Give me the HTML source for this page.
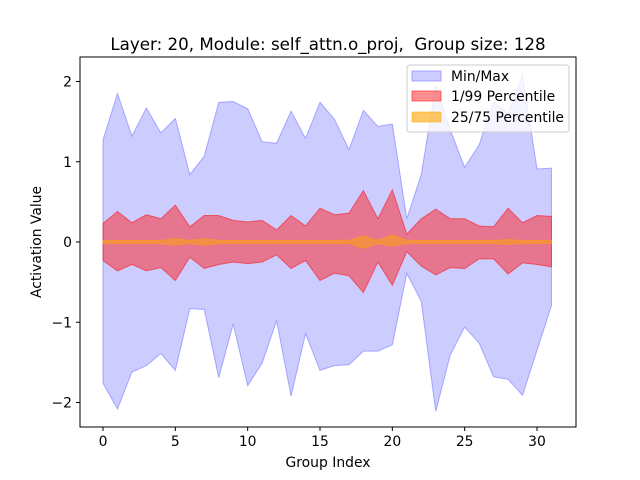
<!DOCTYPE html>
<html><head><meta charset="utf-8"><style>
body{margin:0;background:#fff;}
svg{display:block;font-family:"DejaVu Sans","Liberation Sans",sans-serif;}
</style></head><body>
<svg id="chart" width="640" height="480"></svg>
<script>
const groups=[...Array(32).keys()];
const maxV=[1.27,1.85,1.32,1.67,1.36,1.54,0.84,1.07,1.74,1.75,1.66,1.25,1.23,1.63,1.29,1.74,1.53,1.15,1.64,1.44,1.47,0.29,0.84,1.95,1.4,0.93,1.21,1.75,1.6,2.08,0.91,0.92];
const minV=[-1.76,-2.08,-1.62,-1.54,-1.39,-1.6,-0.83,-0.84,-1.69,-1.02,-1.79,-1.51,-0.98,-1.92,-1.14,-1.6,-1.54,-1.53,-1.36,-1.36,-1.28,-0.39,-0.74,-2.11,-1.41,-1.06,-1.26,-1.68,-1.71,-1.91,-1.35,-0.79];
const p99=[0.23,0.38,0.24,0.34,0.29,0.46,0.19,0.33,0.33,0.27,0.25,0.27,0.15,0.33,0.2,0.42,0.34,0.36,0.64,0.29,0.65,0.1,0.29,0.41,0.29,0.29,0.2,0.19,0.42,0.24,0.33,0.32];
const p01=[-0.23,-0.36,-0.28,-0.36,-0.32,-0.48,-0.19,-0.33,-0.28,-0.25,-0.27,-0.25,-0.16,-0.33,-0.23,-0.48,-0.39,-0.42,-0.63,-0.25,-0.54,-0.12,-0.3,-0.41,-0.32,-0.33,-0.21,-0.21,-0.4,-0.26,-0.28,-0.31];
const p75=[0.02,0.02,0.02,0.02,0.02,0.04,0.02,0.04,0.02,0.02,0.02,0.02,0.02,0.02,0.02,0.02,0.02,0.02,0.08,0.02,0.09,0.02,0.02,0.02,0.02,0.02,0.02,0.02,0.03,0.02,0.02,0.02];
const p25=[-0.02,-0.02,-0.02,-0.02,-0.02,-0.04,-0.02,-0.04,-0.02,-0.02,-0.02,-0.02,-0.02,-0.02,-0.02,-0.02,-0.02,-0.02,-0.08,-0.02,-0.05,-0.02,-0.02,-0.02,-0.02,-0.02,-0.02,-0.02,-0.03,-0.02,-0.02,-0.02];
const xTicks=[0,5,10,15,20,25,30];
const yTicks=[-2,-1,0,1,2];
const NS="http://www.w3.org/2000/svg";
const svg=document.getElementById('chart');
const L=80,R=576,T=57,B=427;
const xs=v=>103+(537-103)*v/30;
const ys=v=>242-80.25*v;
function mk(tag,attrs,parent){const e=document.createElementNS(NS,tag);for(const k in attrs)e.setAttribute(k,attrs[k]);(parent||svg).appendChild(e);return e;}
function band(lo,hi,fill,stroke,name){
  let d='M'+groups.map(i=>xs(i)+','+ys(hi[i])).join('L');
  d+='L'+groups.slice().reverse().map(i=>xs(i)+','+ys(lo[i])).join('L')+'Z';
  const p=mk('path',{d:d,fill:fill,'fill-opacity':0.5,stroke:stroke,'stroke-opacity':0.5,'stroke-width':1});
  
  
}
band(minV,maxV,'#9999ff','#6666ff','minmax-band');
band(p01,p99,'#ff2020','#ff0000','p1-p99-band');
band(p25,p75,'#ffa500','#ffa500','p25-p75-band');
const frame=mk('rect',{x:L,y:T,width:R-L,height:B-T,fill:'none',stroke:'#000','stroke-width':1});


xTicks.forEach(v=>{
  mk('line',{x1:xs(v),x2:xs(v),y1:B,y2:B+4,stroke:'#000'});
  const t=mk('text',{x:xs(v),y:B+19,'text-anchor':'middle','font-size':13.9});
  t.textContent=v;
  
  
});
yTicks.forEach(v=>{
  mk('line',{x1:L-4,x2:L,y1:ys(v),y2:ys(v),stroke:'#000'});
  const t=mk('text',{x:L-8,y:ys(v)+5,'text-anchor':'end','font-size':13.9});
  t.textContent=v<0?'\u2212'+(-v):v;
  
  
});
</script>
<svg style="position:absolute;left:0;top:0" width="640" height="480">
<text x="328" y="50" text-anchor="middle" font-size="16.7" font-family="DejaVu Sans,Liberation Sans,sans-serif">Layer: 20, Module: self_attn.o_proj,&#160; Group size: 128</text>
<text x="328" y="467" text-anchor="middle" font-size="13.9" font-family="DejaVu Sans,Liberation Sans,sans-serif">Group Index</text>
<text transform="translate(41,242) rotate(-90)" text-anchor="middle" font-size="13.9" font-family="DejaVu Sans,Liberation Sans,sans-serif">Activation Value</text>
<g font-family="DejaVu Sans,Liberation Sans,sans-serif" font-size="13.9">
<rect x="407" y="65" width="162" height="67" rx="3" fill="#fff" fill-opacity="0.8" stroke="#ccc"/>
<rect x="412" y="71" width="29" height="10" fill="#9999ff" fill-opacity="0.5" stroke="#6666ff" stroke-opacity="0.5"/>
<text x="451" y="81">Min/Max</text>
<rect x="412" y="91" width="29" height="10" fill="#ff2020" fill-opacity="0.5" stroke="#ff0000" stroke-opacity="0.5"/>
<text x="451" y="101">1/99 Percentile</text>
<rect x="412" y="112" width="29" height="10" fill="#ffa500" fill-opacity="0.6" stroke="#ffa500" stroke-opacity="0.5"/>
<text x="451" y="122">25/75 Percentile</text>
</g>
</svg>
</body></html>
